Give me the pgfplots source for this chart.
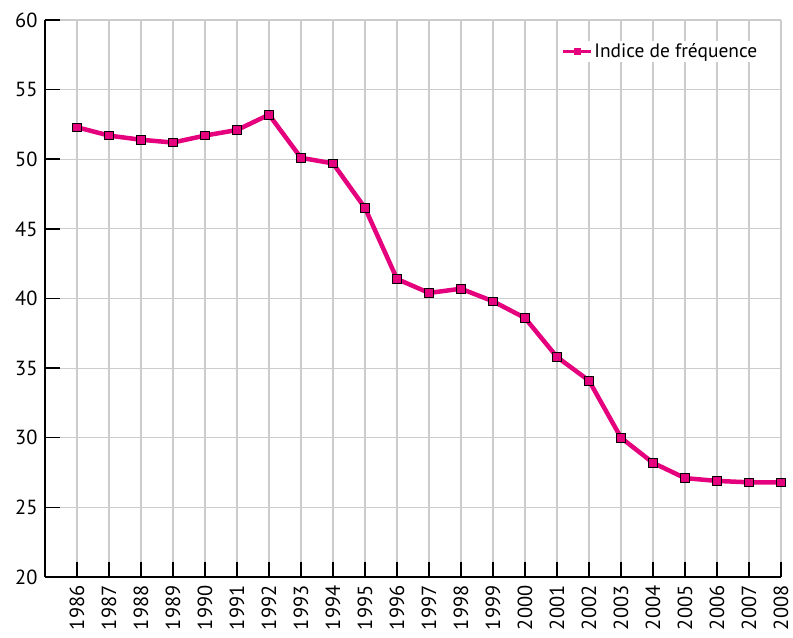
\documentclass[border=0pt]{standalone}
\usepackage{fontspec}
\setmainfont{PT Sans}
\usepackage{pgfplots}
\pgfplotsset{compat=1.18}
\definecolor{mag}{HTML}{E5007D}
\begin{document}
\begin{tikzpicture}
\begin{axis}[
 scale only axis, width=736bp, height=557bp,
 xmin=1985, xmax=2008, ymin=20, ymax=60,
 axis lines=left, axis line style={-, line width=1.5bp, black},
 xtick={1986,...,2008}, ytick={20,25,...,60},
 grid=major, major grid style={line width=1.2bp, color=black!20},
 tick align=inside, major tick length=15bp, tick style={line width=1.5bp, black},
 font=\fontsize{20.5}{22}\selectfont,
 /pgf/number format/assume math mode=true,
 /pgf/number format/1000 sep={},
 xticklabel style={rotate=90, anchor=east},
 xticklabel shift=5bp,
 yticklabel shift=4bp,
 legend style={at={(0.70,0.943)}, anchor=west, draw=none, fill=white, inner sep=1bp,
   font=\fontsize{19.5}{22}\selectfont},
 legend cell align=left,
 legend image code/.code={\draw[line width=3bp, mark size=3bp, mark repeat=2, mark phase=2, mark options={line width=0.8bp}] plot coordinates {(0bp,0bp) (14bp,0bp) (28bp,0bp)};},
]
\addplot[mag, line width=4.5bp, mark=square*, mark size=4.3bp,
  mark options={fill=mag, draw=black, line width=0.8bp}] coordinates {
(1986,52.3) (1987,51.7) (1988,51.4) (1989,51.2) (1990,51.7) (1991,52.1)
(1992,53.2) (1993,50.1) (1994,49.7) (1995,46.5) (1996,41.4) (1997,40.4)
(1998,40.7) (1999,39.8) (2000,38.6) (2001,35.8) (2002,34.1) (2003,30.0)
(2004,28.2) (2005,27.1) (2006,26.9) (2007,26.8) (2008,26.8)};
\addlegendentry{Indice de fréquence}
\end{axis}
\pgfresetboundingbox
\path (-45bp,-61bp) rectangle (748bp,577bp);
\end{tikzpicture}
\end{document}
